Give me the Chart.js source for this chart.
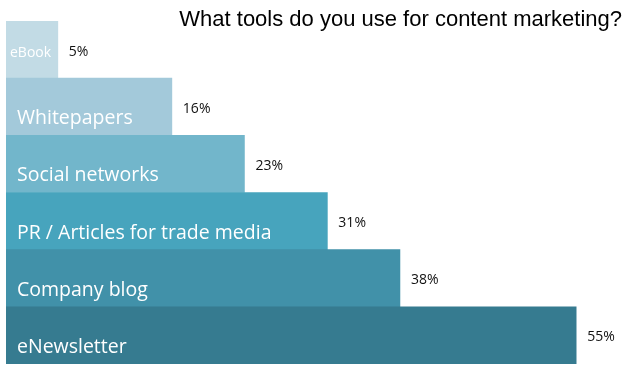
<!DOCTYPE html>
<html>
<head>
<meta charset="utf-8">
<script src="https://cdn.jsdelivr.net/npm/chart.js"></script>
<style>
  html, body { margin: 0; padding: 0; background: #fff; }
  #wrap { position: relative; width: 640px; height: 379px; }
</style>
</head>
<body>
<div id="wrap"><canvas id="chart" width="640" height="379"></canvas></div>
<script>
// Data
const titleText = 'What tools do you use for content marketing?';
const categories = ['eBook', 'Whitepapers', 'Social networks', 'PR / Articles for trade media', 'Company blog', 'eNewsletter'];
const shares = [5, 16, 23, 31, 38, 55];
const valueLabels = ['5%', '16%', '23%', '31%', '38%', '55%'];
const barColors = ['#c2dbe5', '#a3c9da', '#72b6cb', '#47a4bd', '#4191a9', '#367b90'];

// Draws the title, the names inside the bars and the values after them
const barLabels = {
    id: 'barLabels',
    afterDatasetsDraw(chart) {
        const ctx = chart.ctx;
        const meta = chart.getDatasetMeta(0);
        ctx.save();

        // title, right aligned in the top corner
        ctx.fillStyle = '#000';
        ctx.font = '22px "Liberation Sans", Arial, sans-serif';
        ctx.textAlign = 'right';
        ctx.textBaseline = 'alphabetic';
        ctx.fillText(titleText, 622, 26);

        meta.data.forEach((bar, i) => {
            const left = bar.base;
            const width = bar.x - bar.base;

            // category name, white, shrunk if it does not fit
            let size = 19.5;
            ctx.font = size + 'px "Open Sans", sans-serif';
            const w = ctx.measureText(categories[i]).width;
            const small = w > width - 12;
            if (small) {
                size = Math.floor(size * (width - 10) / w);
                ctx.font = size + 'px "Open Sans", sans-serif';
            }
            ctx.fillStyle = '#fff';
            ctx.textAlign = 'left';
            ctx.textBaseline = 'middle';
            ctx.fillText(categories[i], left + (small ? 4 : 11), bar.y + (small ? 3 : 12));

            // value after the bar
            ctx.fillStyle = '#111';
            ctx.font = '14px "Open Sans", sans-serif';
            ctx.fillText(valueLabels[i], bar.x + 11, bar.y + 2);
        });
        ctx.restore();
    }
};

new Chart(document.getElementById('chart').getContext('2d'), {
    type: 'bar',
    data: {
        labels: categories,
        datasets: [{
            data: shares,
            backgroundColor: barColors,
            borderWidth: 0,
            categoryPercentage: 1,
            barPercentage: 1
        }]
    },
    options: {
        indexAxis: 'y',
        responsive: false,
        animation: false,
        events: [],
        layout: {
            padding: { left: 6, right: 12, top: 21, bottom: 15 }
        },
        plugins: {
            legend: { display: false },
            tooltip: { enabled: false },
            title: { display: false }
        },
        scales: {
            x: { display: false, min: 0, max: 60 },
            y: { display: false }
        }
    },
    plugins: [barLabels]
});
</script>
</body>
</html>
